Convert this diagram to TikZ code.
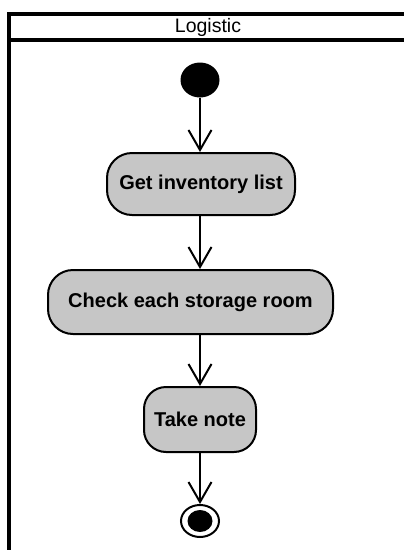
\documentclass[tikz,border=0pt]{standalone}
\usepackage{fontspec}
\setmainfont{Liberation Sans}
\usetikzlibrary{arrows.meta,shapes.geometric}
\definecolor{actfill}{HTML}{C6C6C6}
\tikzset{
  frameline/.style={line width=4pt, black},
  action/.style={draw=black, line width=2pt, fill=actfill, rounded corners=25pt,
    inner sep=0pt, font=\fontsize{20}{22}\selectfont\bfseries, text=black},
  flow/.style={line width=2pt, -{Straight Barb[length=20pt,width=23pt,line width=2pt]}},
}
\begin{document}
\begin{tikzpicture}[x=1pt,y=-1pt]
\useasboundingbox (0,0) rectangle (404,550);
\clip (0,0) rectangle (404,550);
\fill[white] (0,0) rectangle (404,550);
% swimlane frame
\draw[frameline] (9,14) -- (420,14);
\draw[frameline] (9,39.5) -- (420,39.5);
\draw[frameline] (9,12) -- (9,570);
\node[font=\fontsize{19.5}{21}\selectfont] (title) at (208,27) {Logistic};
% nodes
\node[ellipse, fill=black, minimum width=39pt, minimum height=35pt, inner sep=0pt] (ini) at (200,80) {};
\node[action, minimum width=188pt, minimum height=62pt] (b1) at (201,184) {Get inventory list};
\node[action, minimum width=285pt, minimum height=64pt] (b2) at (190.5,302) {Check each storage room};
\node[action, minimum width=112pt, minimum height=65pt, rounded corners=22pt] (b3) at (200,419.5) {Take note};
\node[ellipse, draw=black, line width=2pt, fill=white, minimum width=38pt, minimum height=32pt, inner sep=0pt] (fin) at (200,521) {};
\node[ellipse, fill=black, minimum width=25pt, minimum height=22pt, inner sep=0pt] (fininner) at (fin.center) {};
% flows
\draw[flow] (ini.south) -- (b1.north -| ini);
\draw[flow] (b1.south -| ini) -- (b2.north -| ini);
\draw[flow] (b2.south -| ini) -- (b3.north -| ini);
\draw[flow] (b3.south -| ini) -- (fin.north);
\end{tikzpicture}
\end{document}
